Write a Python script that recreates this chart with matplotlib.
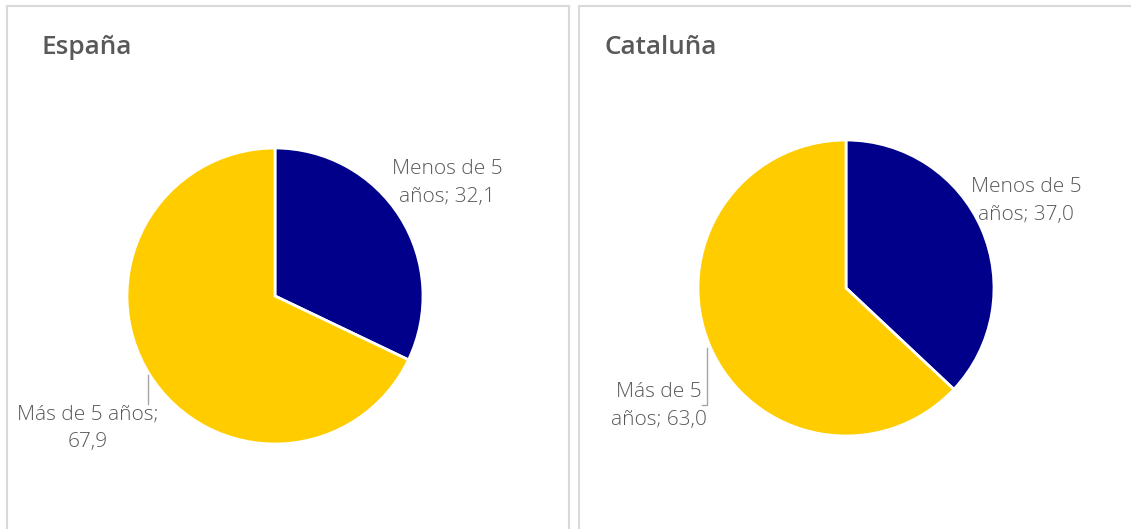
import matplotlib
matplotlib.use('Agg')
import matplotlib.pyplot as plt
from matplotlib.patches import Rectangle
from matplotlib.lines import Line2D

# Data
regions = ['España', 'Cataluña']
categories = ['Menos de 5 años', 'Más de 5 años']
espana_values = [32.1, 67.9]
cataluna_values = [37.0, 63.0]
colors = ['#00008B', '#FFCC00']

W, H = 1131, 529
TEXT = '#595959'
BORDER = '#d9d9d9'
plt.rcParams['font.family'] = ['Open Sans', 'DejaVu Sans']


def fx(x):
    return x / W


def fy(y):
    return 1 - y / H


def fmt(v):
    return f"{v:.1f}".replace('.', ',')


fig = plt.figure(figsize=(W / 100, H / 100), dpi=100)

# panel frames
for x0, x1 in [(7, 569), (579, 1140)]:
    fig.patches.append(Rectangle((fx(x0), fy(540)), fx(x1) - fx(x0), fy(6) - fy(540),
                                 transform=fig.transFigure, facecolor='none',
                                 edgecolor=BORDER, linewidth=1.5))

# pies: (center x, center y, radius) in pixels
pies = [(275, 296, 148), (846, 288, 148)]
data = [espana_values, cataluna_values]
title_x = [42, 605]

for (cx, cy, r), vals, name, tx in zip(pies, data, regions, title_x):
    ax = fig.add_axes([fx(cx - r), fy(cy + r), 2 * r / W, 2 * r / H])
    ax.pie(vals, colors=colors, startangle=90, counterclock=False, radius=1,
           wedgeprops=dict(edgecolor='white', linewidth=2))
    ax.set_xlim(-1, 1)
    ax.set_ylim(-1, 1)
    ax.set_aspect('equal')
    ax.axis('off')
    fig.text(fx(tx), fy(54), name, fontsize=18.8, fontweight='semibold',
             color=TEXT, ha='left', va='baseline')

lab = dict(fontsize=15, fontweight='light', color=TEXT, ha='center',
           va='center', linespacing=1.5)

# España labels
fig.text(fx(447), fy(183), f"Menos de 5\naños; {fmt(espana_values[0])}", **lab)
fig.text(fx(88), fy(428), f"Más de 5 años;\n{fmt(espana_values[1])}", **lab)
fig.add_artist(Line2D([fx(148), fx(148)], [fy(375), fy(404)], color='#a6a6a6', lw=1))

# Cataluña labels
fig.text(fx(1026), fy(201), f"Menos de 5\naños; {fmt(cataluna_values[0])}", **lab)
fig.text(fx(659), fy(406), f"Más de 5\naños; {fmt(cataluna_values[1])}", **lab)
fig.add_artist(Line2D([fx(707), fx(707), fx(702)], [fy(348), fy(405), fy(405)],
                      color='#a6a6a6', lw=1))

fig.savefig('out.png', dpi=100)
